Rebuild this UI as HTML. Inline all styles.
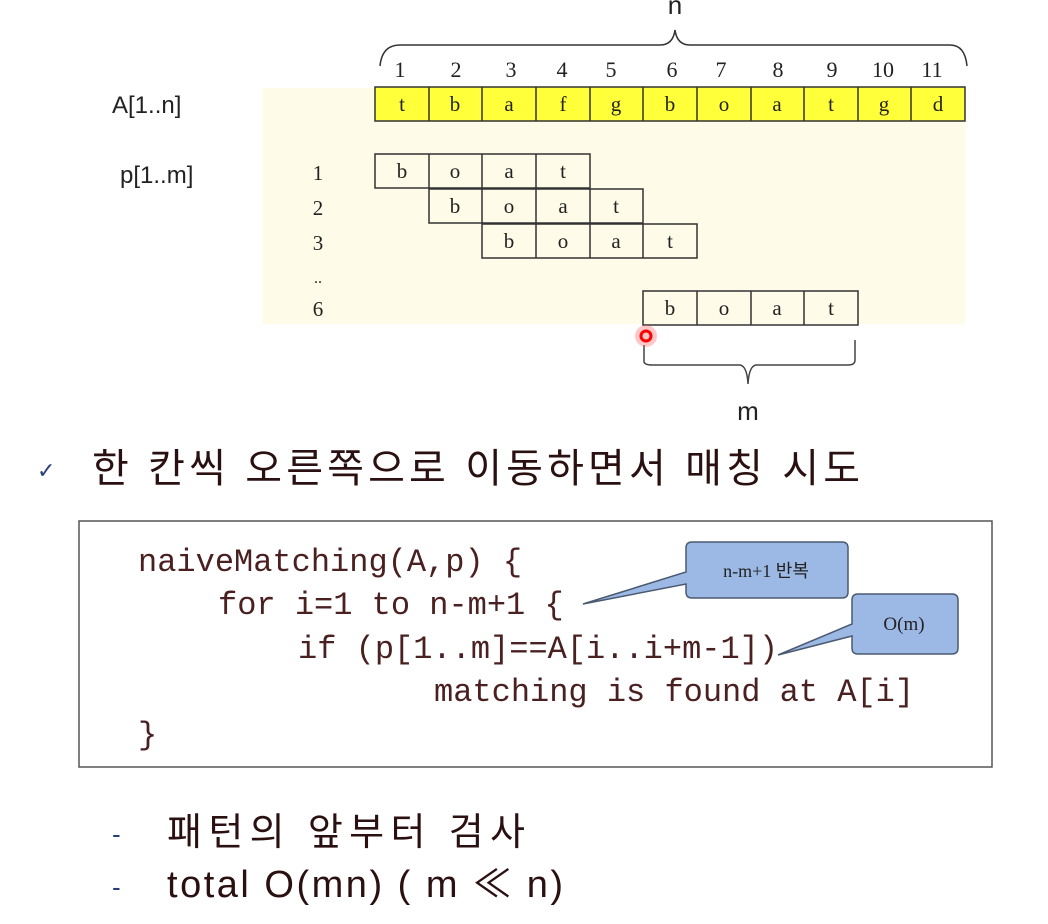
<!DOCTYPE html>
<html><head><meta charset="utf-8"><style>
html,body{margin:0;padding:0;background:#fff;}
svg{display:block}
</style></head><body>
<svg width="1048" height="924" viewBox="0 0 1048 924" xmlns="http://www.w3.org/2000/svg">
<rect x="263" y="88" width="702" height="236" fill="#fefbe8"/>
<path d="M380 66 Q382 45 400 45 L660 45 Q673 45 675 30 Q677 45 690 45 L950 45 Q965 45 967 66" fill="none" stroke="#333" stroke-width="1.5"/>
<text x="675" y="14" font-family="Liberation Sans, sans-serif" font-size="26" text-anchor="middle" fill="#222">n</text>
<g font-family="Liberation Serif, serif" font-size="22" fill="#222" text-anchor="middle">
<text x="400" y="77">1</text><text x="456" y="77">2</text><text x="511" y="77">3</text><text x="562" y="77">4</text><text x="611" y="77">5</text><text x="672" y="77">6</text><text x="721" y="77">7</text><text x="778" y="77">8</text><text x="832" y="77">9</text><text x="883" y="77">10</text><text x="932" y="77">11</text>
</g>
<text x="112" y="113" font-family="Liberation Sans, sans-serif" font-size="24" fill="#222">A[1..n]</text>
<text x="120" y="183" font-family="Liberation Sans, sans-serif" font-size="24" fill="#222">p[1..m]</text>
<g stroke="#333" stroke-width="1.5">
<rect x="375" y="87" width="590" height="34" fill="#ffff3a"/>
<path d="M429 87v34M482 87v34M536 87v34M590 87v34M643 87v34M697 87v34M751 87v34M804 87v34M858 87v34M911 87v34"/>
</g>
<g font-family="Liberation Serif, serif" font-size="21" fill="#222" text-anchor="middle">
<text x="402" y="111">t</text><text x="455" y="111">b</text><text x="509" y="111">a</text><text x="563" y="111">f</text><text x="616" y="111">g</text><text x="670" y="111">b</text><text x="724" y="111">o</text><text x="777" y="111">a</text><text x="831" y="111">t</text><text x="884" y="111">g</text><text x="938" y="111">d</text>
</g>
<g stroke="#333" stroke-width="1.5" fill="none">
<rect x="375" y="154" width="215" height="34"/><path d="M429 154v34M482 154v34M536 154v34"/>
<rect x="429" y="189" width="214" height="34"/><path d="M482 189v34M536 189v34M590 189v34"/>
<rect x="482" y="224" width="215" height="34"/><path d="M536 224v34M590 224v34M643 224v34"/>
<rect x="643" y="291" width="215" height="34"/><path d="M697 291v34M751 291v34M804 291v34"/>
</g>
<g font-family="Liberation Serif, serif" font-size="21" fill="#222" text-anchor="middle">
<text x="402" y="178">b</text><text x="455" y="178">o</text><text x="509" y="178">a</text><text x="563" y="178">t</text>
<text x="455" y="213">b</text><text x="509" y="213">o</text><text x="563" y="213">a</text><text x="616" y="213">t</text>
<text x="509" y="248">b</text><text x="563" y="248">o</text><text x="616" y="248">a</text><text x="670" y="248">t</text>
<text x="670" y="315">b</text><text x="724" y="315">o</text><text x="777" y="315">a</text><text x="831" y="315">t</text>
<text x="318" y="180">1</text><text x="318" y="215">2</text><text x="318" y="250">3</text><text x="318" y="283" font-size="16">..</text><text x="318" y="316">6</text>
</g>
<path d="M644 345 L644 362 Q645 365 652 365 L740 365 Q747 366 748 384 Q749 366 756 365 L848 365 Q855 365 855 360 L855 340" fill="none" stroke="#444" stroke-width="1.5"/>
<text x="748" y="420" font-family="Liberation Sans, sans-serif" font-size="26" text-anchor="middle" fill="#222">m</text>
<circle cx="646" cy="336" r="11" fill="#ff6060" opacity="0.35"/>
<circle cx="646" cy="336" r="5" fill="none" stroke="#f00" stroke-width="3"/>
<text x="37" y="478" font-family="DejaVu Sans, sans-serif" font-size="22" fill="#2a3f7a">✓</text>
<text x="92" y="482" font-family="Liberation Sans, 'Noto Sans CJK KR', sans-serif" font-size="40" fill="#2a1010" textLength="768" lengthAdjust="spacing">한 칸씩 오른쪽으로 이동하면서 매칭 시도</text>
<rect x="79" y="521" width="913" height="246" fill="#fff" stroke="#555" stroke-width="1.5"/>
<g font-family="Liberation Mono, monospace" font-size="32" fill="#4a2020">
<text x="138" y="571">naiveMatching(A,p) {</text>
<text x="218" y="614">for i=1 to n-m+1 {</text>
<text x="298" y="658">if (p[1..m]==A[i..i+m-1])</text>
<text x="434" y="701">matching is found at A[i]</text>
<text x="138" y="744">}</text>
</g>
<path d="M583 604 L686 572 L686 548 Q686 542 692 542 L842 542 Q848 542 848 548 L848 592 Q848 598 842 598 L692 598 Q686 598 686 592 L686 584 Z" fill="#9cb8e4" stroke="#4a5a70" stroke-width="1.5"/>
<text x="766" y="577" font-family="Liberation Serif, 'Noto Sans CJK KR', serif" font-size="18" text-anchor="middle" fill="#222">n-m+1 반복</text>
<path d="M778 655 L852 624 L852 600 Q852 594 858 594 L952 594 Q958 594 958 600 L958 648 Q958 654 952 654 L858 654 Q852 654 852 648 L852 636 Z" fill="#9cb8e4" stroke="#4a5a70" stroke-width="1.5"/>
<text x="904" y="630" font-family="Liberation Serif, serif" font-size="19" text-anchor="middle" fill="#222">O(m)</text>
<g font-family="Liberation Sans, 'Noto Sans CJK KR', sans-serif" font-size="38" fill="#2a1010">
<text x="112" y="843" font-size="26" fill="#2a3f7a">-</text>
<text x="167" y="845" textLength="358" lengthAdjust="spacing">패턴의 앞부터 검사</text>
<text x="112" y="896" font-size="26" fill="#2a3f7a">-</text>
<text x="167" y="897" textLength="396" lengthAdjust="spacing">total O(mn) ( m ≪ n)</text>
</g>
</svg>
</body></html>
